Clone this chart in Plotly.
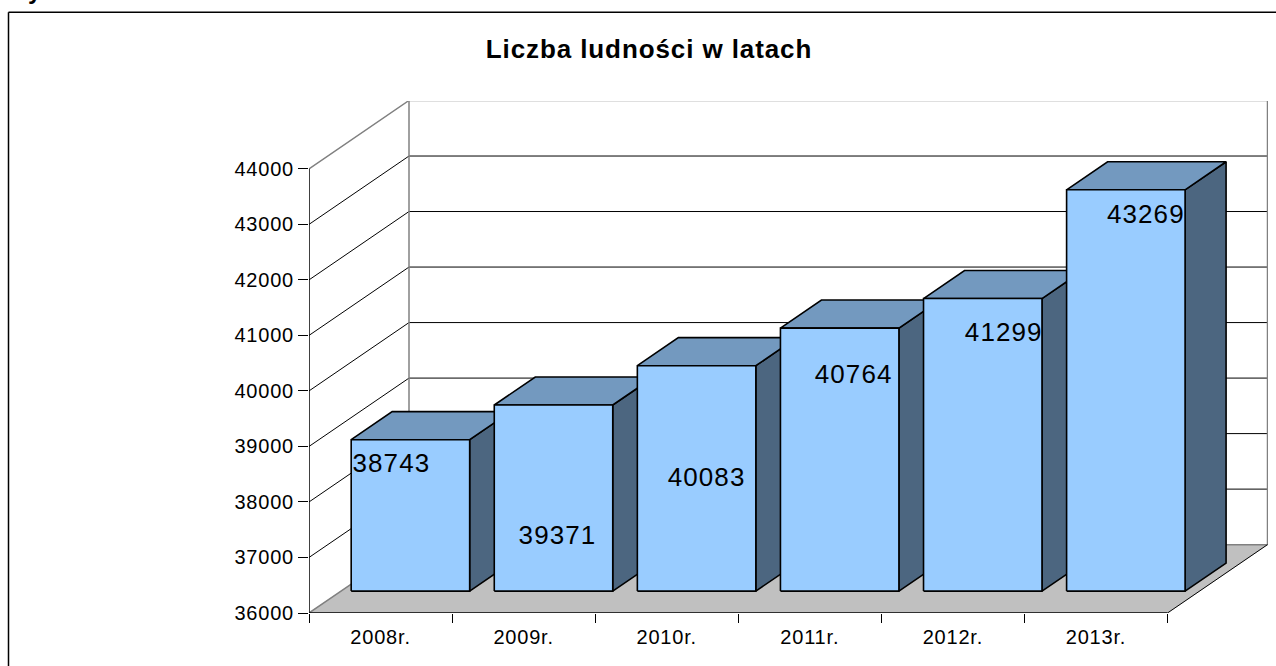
import plotly.graph_objects as go

# ---------- data ----------
categories = ["2008r.", "2009r.", "2010r.", "2011r.", "2012r.", "2013r."]
population = [38743, 39371, 40083, 40764, 41299, 43269]
y_ticks = [36000, 37000, 38000, 39000, 40000, 41000, 42000, 43000, 44000]
title_text = "Liczba ludności w latach"

# ---------- layout geometry (pixels of the page) ----------
W, H = 1276, 666
PL, PR, PT, PB = 309, 1268, 100.5, 613.5  # plot box
PX_PER_CAT = (1167.5 - 309) / 6
PX_PER_VAL = 445 / 8000
Y0 = y_ticks[0]
DEPTH_DX = 100 / PX_PER_CAT               # full depth expressed in axis units
DEPTH_DY = 68.5 / PX_PER_VAL
BAR_FRONT, BAR_BACK = 0.32, 0.73          # bars' position along the depth
BAR_GAP, BAR_W = 0.0712, 0.828
BAR_SCALE = 0.9945

FRONT, TOP, SIDE = "#99CCFF", "#7399BF", "#4C6680"
FLOOR, WALL = "#C0C0C0", "#808080"

# label shifts from the top-centre of each bar's front face (pixels)
label_dx = [-19, 4, 10, 14, 21, 20]
label_drop = [26, 133, 114, 48, 36, 27]


def proj(x, v, d):
    """Oblique projection: axis x, value v, depth d in [0, 1]."""
    return x + d * DEPTH_DX, v + d * DEPTH_DY


def poly(points, fill=None, color="black", width=1.0):
    xs = [p[0] for p in points]
    ys = [p[1] for p in points]
    kw = dict(fill="toself", fillcolor=fill) if fill else {}
    return go.Scatter(x=xs, y=ys, mode="lines", line=dict(color=color, width=width),
                      hoverinfo="skip", showlegend=False, cliponaxis=False, **kw)


fig = go.Figure()
xmax = len(categories)
ytop, ybot = y_ticks[-1], y_ticks[0]

# floor
fig.add_trace(poly([proj(0, ybot, 0), proj(xmax, ybot, 0), proj(xmax, ybot, 1), proj(0, ybot, 1),
                    proj(0, ybot, 0)], fill=FLOOR, color=FLOOR, width=0.5))

# gridlines on the side and back walls
for t in y_ticks:
    edge = t in (ybot, ytop)
    fig.add_trace(poly([proj(0, t, 0), proj(0, t, 1), proj(xmax, t, 1)],
                       color=WALL if edge else "black", width=1.5 if edge else 1))
# wall verticals
fig.add_trace(poly([proj(0, ybot, 1), proj(0, ytop, 1)], color=WALL, width=1.5))
fig.add_trace(poly([proj(xmax, ybot, 1), proj(xmax, ytop, 1)], color=WALL, width=1.5))
# floor front-right edge, axis lines
fig.add_trace(poly([proj(xmax, ybot, 0), proj(xmax, ybot, 1)], color="black", width=1))
fig.add_trace(poly([proj(0, ybot, 0), proj(0, ytop, 0)], color="black", width=1.5))
fig.add_trace(poly([proj(0, ybot, 0), proj(xmax, ybot, 0)], color="black", width=1.5))

# bars
for i, val in enumerate(population):
    v = Y0 + (val - Y0) * BAR_SCALE
    x0 = i + BAR_GAP
    x1 = x0 + BAR_W
    fig.add_trace(poly([proj(x1, Y0, BAR_FRONT), proj(x1, Y0, BAR_BACK), proj(x1, v, BAR_BACK),
                        proj(x1, v, BAR_FRONT), proj(x1, Y0, BAR_FRONT)], fill=SIDE, width=1.6))
    fig.add_trace(poly([proj(x0, v, BAR_FRONT), proj(x0, v, BAR_BACK), proj(x1, v, BAR_BACK),
                        proj(x1, v, BAR_FRONT), proj(x0, v, BAR_FRONT)], fill=TOP, width=1.6))
    fig.add_trace(poly([proj(x0, Y0, BAR_FRONT), proj(x1, Y0, BAR_FRONT), proj(x1, v, BAR_FRONT),
                        proj(x0, v, BAR_FRONT), proj(x0, Y0, BAR_FRONT)], fill=FRONT, width=1.6))

# data labels
lx, ly = [], []
for i, val in enumerate(population):
    v = Y0 + (val - Y0) * BAR_SCALE
    cx, cy = proj(i + BAR_GAP + BAR_W / 2, v, BAR_FRONT)
    lx.append(cx + label_dx[i] / PX_PER_CAT)
    ly.append(cy - label_drop[i] / PX_PER_VAL)
fig.add_trace(go.Scatter(x=lx, y=ly, mode="text", text=[str(p) for p in population],
                         textposition="middle center", cliponaxis=False,
                         textfont=dict(family="Liberation Sans", size=26, color="black"),
                         hoverinfo="skip", showlegend=False))

# outer chart frame, cut off by the page at right and bottom
frame = dict(type="line", xref="paper", yref="paper", line=dict(color="black", width=1.5))
def px(x): return (x - PL) / (PR - PL)
def py(y): return (PB - y) / (PB - PT)
fig.add_shape(x0=px(8.5), x1=px(W + 5), y0=py(11.5), y1=py(11.5), **frame)
fig.add_shape(x0=px(8.5), x1=px(8.5), y0=py(11.5), y1=py(H + 5), **frame)

fig.add_annotation(text="<b>y</b>", xref="paper", yref="paper", x=px(35), y=py(-10), showarrow=False,
                   xanchor="center", yanchor="middle",
                   font=dict(family="Liberation Sans", size=24, color="black"))

fig.update_layout(
    width=W, height=H,
    margin=dict(l=PL, r=W - PR, t=PT, b=H - PB, pad=0),
    paper_bgcolor="white", plot_bgcolor="white", showlegend=False,
    title=dict(text="<b>" + title_text + "</b>", x=649 / W, y=1 - 49 / H, xref="container", yref="container",
               xanchor="center", yanchor="middle",
               font=dict(family="Liberation Sans", size=26, color="black")),
    hovermode=False,
    xaxis=dict(range=[0, (PR - PL) / PX_PER_CAT], showgrid=False, zeroline=False, showline=False,
               tickmode="array", tickvals=[i + 0.5 for i in range(len(categories))], ticktext=categories,
               ticks="", ticklen=0, ticklabelstandoff=10,
               tickfont=dict(family="Liberation Sans", size=20, color="black"),
               minor=dict(tickmode="array", tickvals=list(range(len(categories) + 1)),
                          ticks="outside", ticklen=9, tickwidth=1, tickcolor="black", showgrid=False)),
    yaxis=dict(range=[Y0, Y0 + (PB - PT) / PX_PER_VAL], showgrid=False, zeroline=False, showline=False,
               tickmode="array", tickvals=y_ticks, ticktext=[str(t) for t in y_ticks],
               ticks="outside", ticklen=10, tickwidth=1, tickcolor="black",
               tickfont=dict(family="Liberation Sans", size=20, color="black")),
)

css = (".xtick text,.ytick text{letter-spacing:0.8px}"
       ".textpoint text{letter-spacing:1.1px}"
       ".gtitle{letter-spacing:0.9px}")
fig.write_html("out.html", config={"displayModeBar": False},
               post_script="document.body.style.margin='0';document.body.style.overflow='hidden';"
                           "var s=document.createElement('style');s.textContent=%r;document.head.appendChild(s);" % css)
